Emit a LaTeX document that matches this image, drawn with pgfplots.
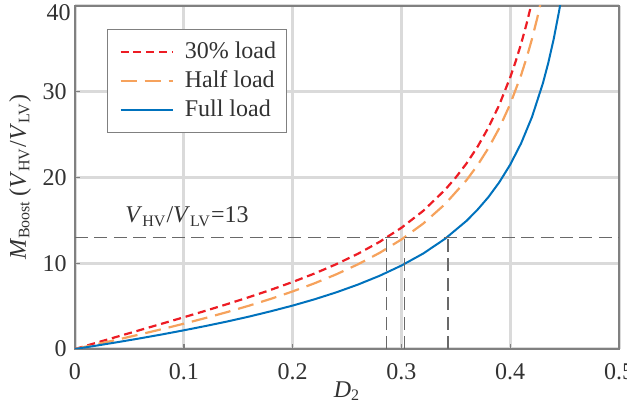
\documentclass[border=0pt]{standalone}
\usepackage{fontspec}
\setmainfont{Liberation Serif}
\usepackage{pgfplots}
\pgfplotsset{compat=1.18}
\definecolor{cRed}{RGB}{237,28,36}
\definecolor{cOrange}{RGB}{246,162,92}
\definecolor{cBlue}{RGB}{0,114,189}
\definecolor{cGrid}{RGB}{218,218,218}
\definecolor{cAxis}{RGB}{128,128,128}
\definecolor{cRef}{RGB}{105,105,105}
\definecolor{cText}{RGB}{50,50,50}
\newcommand{\fs}{\fontsize{12}{14}\selectfont}
\begin{document}
\fs
\begin{tikzpicture}
\begin{axis}[
  scale only axis, width=272pt, height=171.5pt,
  clip mode=individual,
  xmin=0, xmax=0.5, ymin=0, ymax=40,
  xtick={0,0.1,0.2,0.3,0.4,0.5},
  xticklabels={0,0.1,0.2,0.3,0.4,0.5},
  ytick={0,10,20,30,40},
  yticklabels={0,10,20,30,{}},
  grid=major,
  major grid style={color=cGrid, line width=1.5pt},
  axis line style={color=cAxis, line width=0.7pt},
  tick style={color=cAxis, line width=0.7pt},
  tick align=inside, tick pos=left, major tick length=2.5pt,
  ticklabel style={font=\fs, text=cText},
  xticklabel style={yshift=-3pt},
  xlabel={\textit{D}\textsubscript{2}},
  ylabel={\textit{M}\textsubscript{Boost}\,(\textit{V}\textsubscript{HV}/\textit{V}\textsubscript{LV})},
  label style={font=\fs, text=cText},
  xlabel style={at={(axis description cs:0.5,0)}, anchor=center, yshift=-21pt},
  ylabel style={at={(axis description cs:-0.101,0.5)}, anchor=center},
  legend cell align=left,
  legend style={at={(axis description cs:0.0588,0.933)}, anchor=north west,
    draw=cAxis, line width=0.6pt, fill=white, inner xsep=3pt, inner ysep=4pt,
    row sep=0.5pt, font=\fs, text=cText, nodes={inner sep=2pt}},
  legend image code/.code={\path (0pt,0pt) (32.5pt,0pt); \draw[#1] (3pt,0pt) -- (29pt,0pt);},
]
\addplot[cRed, line width=1.1pt, dash pattern=on 4pt off 2.4pt] coordinates {
(0,0) (0.02,0.743) (0.04,1.481) (0.06,2.217) (0.08,2.955) (0.10,3.700)
(0.12,4.459) (0.14,5.239) (0.16,6.050) (0.18,6.902) (0.20,7.811)
(0.22,8.796) (0.24,9.881) (0.26,11.100) (0.28,12.497) (0.30,14.135)
(0.32,16.105) (0.34,18.544) (0.35,20.002) (0.36,21.666) (0.37,23.587)
(0.38,25.829) (0.39,28.484) (0.40,31.676) (0.405,33.528) (0.41,35.588)
(0.415,37.894) (0.42,40.493)};
\addlegendentry{30\% load}
\addplot[cOrange, line width=1.1pt, dash pattern=on 8pt off 4pt] coordinates {
(0,0) (0.02,0.555) (0.04,1.124) (0.06,1.711) (0.08,2.318) (0.10,2.950)
(0.12,3.613) (0.14,4.311) (0.16,5.054) (0.18,5.850) (0.20,6.711)
(0.22,7.654) (0.24,8.699) (0.26,9.872) (0.28,11.212) (0.30,12.770)
(0.32,14.620) (0.34,16.876) (0.36,19.715) (0.37,21.438) (0.38,23.432)
(0.39,25.770) (0.40,28.556) (0.41,31.941) (0.415,33.925) (0.42,36.150)
(0.425,38.667) (0.43,41.537)};
\addlegendentry{Half load}
\addplot[cBlue, line width=1pt] coordinates {
(0,0) (0.02,0.40) (0.04,0.815) (0.06,1.248) (0.08,1.70) (0.10,2.18)
(0.12,2.68) (0.14,3.21) (0.16,3.78) (0.18,4.40) (0.20,5.06)
(0.22,5.79) (0.24,6.60) (0.26,7.51) (0.28,8.54) (0.30,9.73)
(0.32,11.13) (0.34,12.84) (0.36,14.96) (0.37,16.25) (0.38,17.72)
(0.39,19.45) (0.40,21.50) (0.41,23.98) (0.42,27.05) (0.43,30.97)
(0.435,33.37) (0.44,36.16) (0.445,39.45) (0.447,40.93)};
\addlegendentry{Full load}
\addplot[cRef, line width=0.75pt, dash pattern=on 6.5pt off 3.2pt, forget plot] coordinates {(0,13) (0.5,13)};
\addplot[cRef, line width=0.75pt, dash pattern=on 6.5pt off 3.2pt, forget plot] coordinates {(0.2865,0) (0.2865,13)};
\addplot[cRef, line width=0.75pt, dash pattern=on 6.5pt off 3.2pt, forget plot] coordinates {(0.3027,0) (0.3027,13)};
\addplot[cRef, line width=0.75pt, dash pattern=on 6.5pt off 3.2pt, forget plot] coordinates {(0.343,0) (0.343,13)};
\node[anchor=base west, inner sep=0pt, text=cText, font=\fs] at (axis cs:0.046,14.7)
  {\textit{V}\textsubscript{HV}/\textit{V}\textsubscript{LV}=13};
\node[anchor=east, text=cText, font=\fs, inner sep=2pt] at ([yshift=-3.3pt]axis cs:0,40) {40};
\end{axis}
\pgfresetboundingbox
\path[use as bounding box] ([xshift=-37.5pt,yshift=-30pt]current axis.south west) rectangle ([xshift=4pt,yshift=3pt]current axis.north east);
\end{tikzpicture}
\end{document}
